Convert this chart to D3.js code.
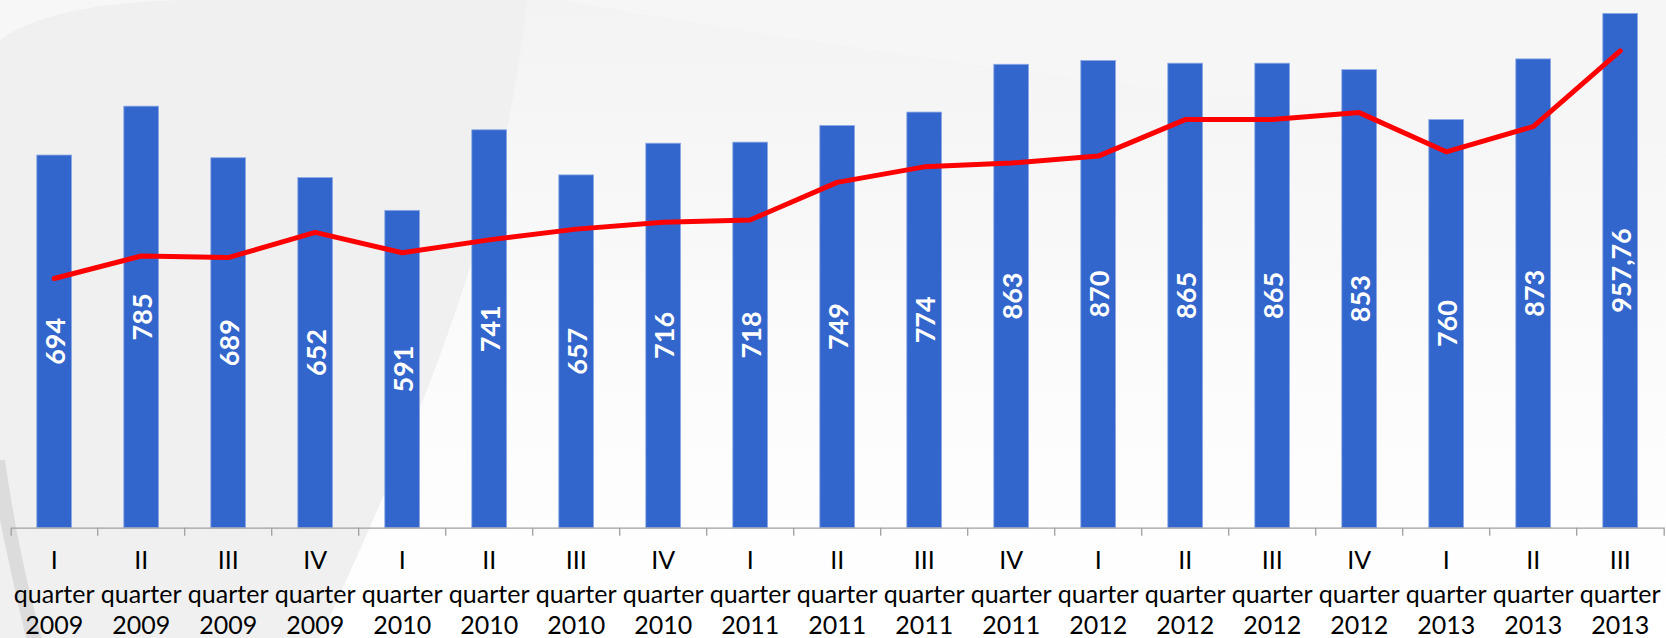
<!DOCTYPE html>
<html>
<head>
<meta charset="utf-8">
<script src="https://cdn.jsdelivr.net/npm/d3@7"></script>
<style>
  html, body { margin: 0; padding: 0; background: #ffffff; overflow: hidden; }
  svg { display: block; }
</style>
</head>
<body>
<svg id="chart" width="1666" height="638"></svg>
<script>
// ---------- data ----------
const quarters = ["I","II","III","IV","I","II","III","IV","I","II","III","IV","I","II","III","IV","I","II","III"];
const years    = ["2009","2009","2009","2009","2010","2010","2010","2010","2011","2011","2011","2011","2012","2012","2012","2012","2013","2013","2013"];
const barValues = [694,785,689,652,591,741,657,716,718,749,774,863,870,865,865,853,760,873,957.76];
const barLabels = ["694","785","689","652","591","741","657","716","718","749","774","863","870","865","865","853","760","873","957,76"];
const lineValues = [464,506,503,550,512,536,556,569,573,643,672,679,692,760,760,773,700,747,888];

const categories = quarters.map((q, i) => q + " quarter " + years[i]);

// ---------- layout ----------
const W = 1666, H = 638;
const axisY = 527.7;
const svg = d3.select("#chart");

// background
const bg = svg.append("g");
const defs = svg.append("defs");
const topGrad = defs.append("linearGradient").attr("id", "topGrad")
  .attr("x1", 0).attr("y1", 0).attr("x2", 0).attr("y2", 1);
topGrad.append("stop").attr("offset", "0%").attr("stop-color", "#f3f3f3");
topGrad.append("stop").attr("offset", "55%").attr("stop-color", "#fbfbfb");
topGrad.append("stop").attr("offset", "100%").attr("stop-color", "#ffffff");
bg.append("rect").attr("width", W).attr("height", H).attr("fill", "url(#topGrad)");
// left gray region bounded by a curve
bg.append("path")
  .attr("d", "M0,0 L527,0 C505,220 420,420 320,638 L0,638 Z")
  .attr("fill", "#f0f0f0");
// faint lighter arc top-left
bg.append("path")
  .attr("d", "M0,40 C40,10 120,0 200,0 L0,0 Z")
  .attr("fill", "#f7f7f7");
// darker diagonal band bottom-left
bg.append("path")
  .attr("d", "M0,460 L5,460 C15,530 28,590 42,638 L26,638 C15,590 5,545 0,520 Z")
  .attr("fill", "#dcdcdc");
// faint swoosh top-right
bg.append("path")
  .attr("d", "M560,0 C900,60 1300,110 1666,140 L1666,0 Z")
  .attr("fill", "#f6f6f6").attr("opacity", 0.7);

// scales
const x = d3.scaleBand()
  .domain(categories)
  .range([10.7, 1663.7])
  .paddingInner(0.6)
  .paddingOuter(0.3);

const y = d3.scaleLinear()
  .domain([0, 1000])
  .range([axisY, axisY - 537]);

// bars
const g = svg.append("g");
g.selectAll("rect.bar")
  .data(barValues)
  .join("rect")
  .attr("class", "bar")
  .attr("x", (d, i) => x(categories[i]))
  .attr("y", d => y(d))
  .attr("width", x.bandwidth())
  .attr("height", d => y(0) - y(d))
  .attr("fill", "#3366cc")
  .attr("stroke", "#8eaae6")
  .attr("stroke-width", 0.8);

// bar labels (rotated, centered in bar)
g.selectAll("text.val")
  .data(barValues)
  .join("text")
  .attr("class", "val")
  .attr("transform", (d, i) => {
    const cx = x(categories[i]) + x.bandwidth() / 2;
    const cy = (y(d) + y(0)) / 2;
    return `translate(${cx},${cy}) rotate(-90)`;
  })
  .attr("text-anchor", "middle")
  .attr("dominant-baseline", "central")
  .attr("fill", "#ffffff")
  .attr("font-family", "Lato, 'Open Sans', sans-serif")
  .attr("font-weight", 700)
  .attr("font-size", 27)
  .text((d, i) => barLabels[i]);

// line
const line = d3.line()
  .x((d, i) => x(categories[i]) + x.bandwidth() / 2)
  .y(d => y(d));
g.append("path")
  .datum(lineValues)
  .attr("d", line)
  .attr("fill", "none")
  .attr("stroke", "#ff0000")
  .attr("stroke-width", 5)
  .attr("stroke-linejoin", "round")
  .attr("stroke-linecap", "round");

// axis
const axis = d3.axisBottom(x).tickSizeInner(0).tickSizeOuter(8).tickPadding(0);
const ax = svg.append("g")
  .attr("transform", `translate(0,${axisY})`)
  .call(axis);
ax.select(".domain").attr("stroke", "#a0a0a0").attr("stroke-width", 1.3);
ax.selectAll(".tick line").remove();
ax.selectAll(".tick text").each(function(d, i) {
  const t = d3.select(this);
  t.text(null).attr("y", 0).attr("dy", null)
    .attr("fill", "#000000")
    .attr("font-family", "Lato, Roboto, sans-serif")
    .attr("font-size", 25);
  const lines = [quarters[i], "quarter", years[i]];
  const baselines = [41.6, 75.6, 106.8];
  lines.forEach((s, k) => {
    t.append("tspan").attr("x", 0).attr("y", baselines[k]).text(s);
  });
});
// boundary ticks
ax.selectAll("line.btick")
  .data(categories.slice(1))
  .join("line")
  .attr("class", "btick")
  .attr("x1", d => x(d) - x.step() * x.paddingInner() / 2)
  .attr("x2", d => x(d) - x.step() * x.paddingInner() / 2)
  .attr("y1", 0).attr("y2", 8)
  .attr("stroke", "#a0a0a0").attr("stroke-width", 1.3);
</script>
</body>
</html>
